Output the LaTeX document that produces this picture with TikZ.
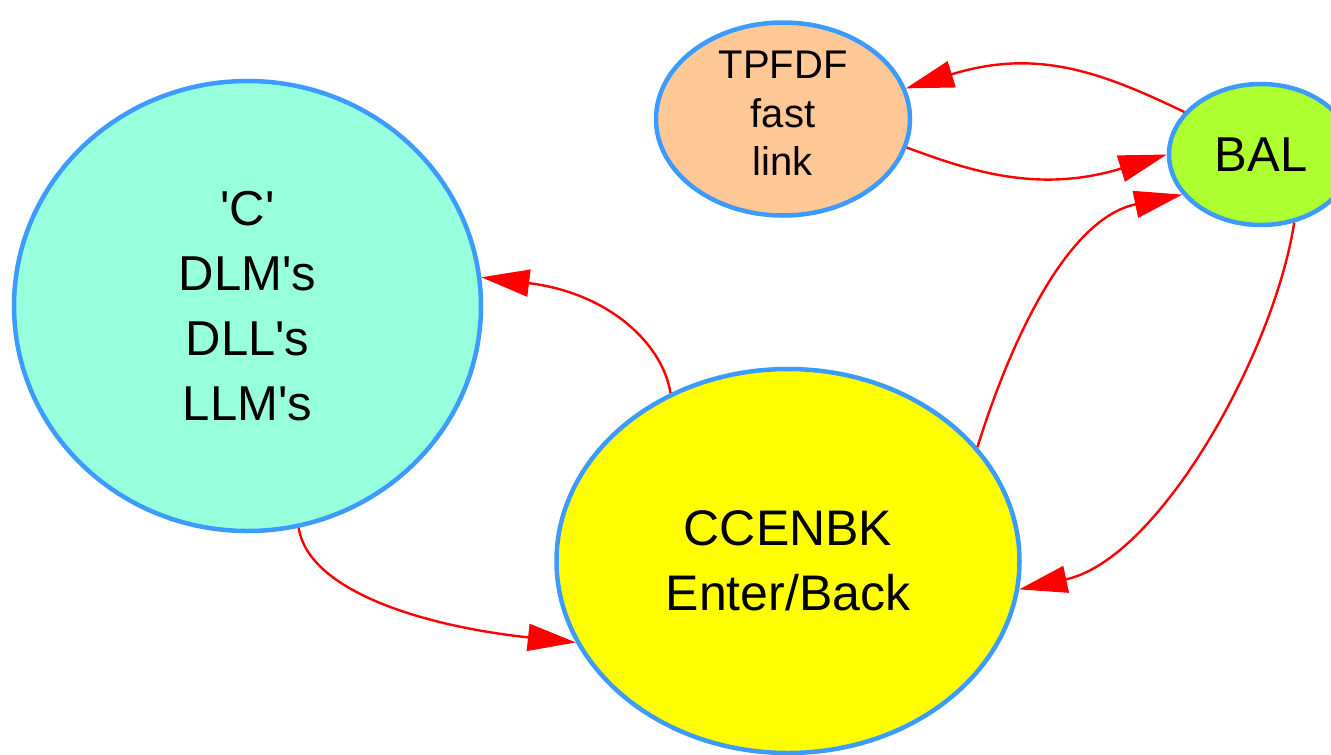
\documentclass[tikz,border=0pt]{standalone}
\usepackage{fontspec}
\newfontfamily\lsans{Liberation Sans}
\usetikzlibrary{shapes.geometric,arrows.meta}
\definecolor{bord}{RGB}{60,155,255}
\definecolor{aqua}{RGB}{152,255,220}
\definecolor{peach}{RGB}{255,200,150}
\definecolor{lime}{RGB}{173,255,47}
\definecolor{yel}{RGB}{255,255,0}
\begin{document}
\begin{tikzpicture}[x=1pt,y=-1pt,
  state/.style={ellipse, draw=bord, line width=4.5pt, inner sep=0pt, align=center},
  edge/.style={draw=red, line width=2.4pt, -{Triangle[length=48pt,width=27pt]}}]
\clip (0,0) rectangle (1331,755);
\useasboundingbox (0,0) rectangle (1331,755);
\node[state, fill=aqua, minimum width=467pt, minimum height=450pt,
      font=\lsans\fontsize{49}{65}\selectfont] (C) at (247.5,306)
      {'C'\\DLM's\\DLL's\\LLM's};
\node[state, fill=yel, minimum width=463pt, minimum height=384pt,
      font=\lsans\fontsize{50}{65}\selectfont] (CC) at (788,561)
      {CCENBK\\Enter/Back};
\node[state, fill=peach, minimum width=254pt, minimum height=193pt, text depth=11pt,
      font=\lsans\fontsize{40}{48.5}\selectfont] (TP) at (783,119)
      {TPFDF\\fast\\link};
\node[state, fill=lime, minimum width=184pt, minimum height=141pt,
      font=\lsans\fontsize{49}{60}\selectfont] (BAL) at (1261,154.5)
      {BAL};
\draw[edge] (BAL.151.4) .. controls +(-85,-41) and +(130,-40) .. (TP.14.4);
\draw[edge] (TP.-13.6) .. controls +(60,22) and +(-130,40) .. (BAL.180.3);
\draw[edge] (CC.125.6) .. controls +(-7,-47) and +(130,16) .. (C.7.1);
\draw[edge] (C.-77.6) .. controls +(10,64) and +(-150,-16) .. (CC.201.5);
\draw[edge] (CC.31.5) .. controls +(28,-90) and +(-120,25) .. (BAL.207.5);
\draw[edge] (BAL.-64.6) .. controls +(-20,130) and +(140,-30) .. (CC.-7.1);
\end{tikzpicture}
\end{document}
